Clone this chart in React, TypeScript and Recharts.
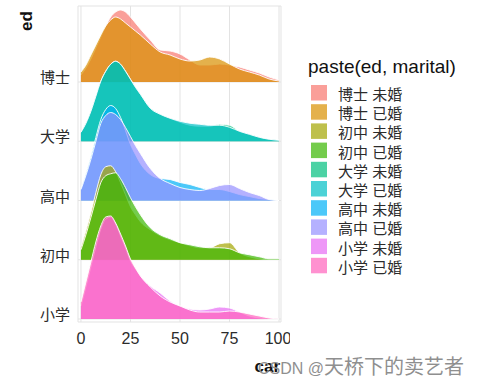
import React from "react";
import { ComposedChart, Area, XAxis, YAxis, CartesianGrid } from "recharts";

// 密度曲线的横坐标(car)
const xs = [0, 2.5, 5, 7.5, 10, 12.5, 15, 17.5, 20, 22.5, 25, 27.5, 30, 35, 40, 45, 50, 55, 60, 65, 70, 75, 80, 85, 90, 95, 100];

// 各组的密度高度(相对值,从图上读出)
const boshiWeihun = [7, 14, 23, 34, 45, 56, 65, 70, 72, 70, 65, 59, 53, 42, 32, 31, 28, 22, 17, 17, 18, 17, 15, 12, 9, 5, 2];
const boshiYihun = [10, 17, 27, 37, 47, 56, 62, 65, 63, 59, 55, 51, 47, 38, 30, 27, 23, 21, 22, 25, 23, 18, 13, 10, 7, 3, 1];
const daxueWeihun = [9, 18, 30, 45, 60, 70, 77, 80, 77, 70, 62, 54, 47, 33, 27, 23, 19, 16, 15, 15, 17, 16, 10, 7, 4, 2, 1];
const daxueYihun = [9, 18, 30, 45, 60, 70, 77, 80, 77, 70, 62, 54, 47, 33, 27, 23, 20, 18, 17, 16, 16, 14, 10, 7, 4, 2, 1];
const gaozhongWeihun = [12, 27, 44, 63, 81, 91, 95, 92, 83, 70, 56, 46, 37, 26, 22, 21, 18, 16, 13, 11, 11, 9, 6, 4, 2, 1, 0];
const gaozhongYihun = [11, 25, 41, 59, 77, 85, 88, 86, 81, 73, 64, 55, 47, 32, 22, 17, 13, 11, 10, 12, 15, 16, 12, 8, 5, 1, 0];
const chuzhongWeihun = [13, 29, 47, 67, 85, 93, 94, 88, 77, 65, 53, 45, 38, 30, 24, 20, 17, 14, 12, 12, 16, 17, 7, 3, 1, 0, 0];
const chuzhongYihun = [10, 25, 42, 60, 77, 84, 86, 87, 81, 72, 62, 53, 45, 32, 25, 21, 17, 15, 13, 12, 12, 11, 7, 5, 3, 1, 1];
const xiaoxueWeihun = [13, 32, 52, 72, 90, 100, 102, 95, 83, 71, 58, 50, 43, 33, 26, 18, 13, 10, 9, 10, 12, 11, 7, 3, 1, 0, 0];
const xiaoxueYihun = [17, 37, 57, 77, 93, 102, 103, 96, 85, 73, 60, 51, 43, 32, 23, 17, 13, 9, 7, 7, 7, 8, 7, 5, 3, 1, 0];

// y 轴的类别(从下到上)
const edLevels = ["小学", "初中", "高中", "大学", "博士"];
const xTicks = [0, 25, 50, 75, 100];

// 图例顺序 = 因子水平顺序
const groups = [
  { key: "bw", label: "博士 未婚", ed: "博士", values: boshiWeihun, color: "#F8766D" },
  { key: "by", label: "博士 已婚", ed: "博士", values: boshiYihun, color: "#D89000" },
  { key: "cw", label: "初中 未婚", ed: "初中", values: chuzhongWeihun, color: "#A3A500" },
  { key: "cy", label: "初中 已婚", ed: "初中", values: chuzhongYihun, color: "#39B600" },
  { key: "dw", label: "大学 未婚", ed: "大学", values: daxueWeihun, color: "#00BF7D" },
  { key: "dy", label: "大学 已婚", ed: "大学", values: daxueYihun, color: "#00BFC4" },
  { key: "gw", label: "高中 未婚", ed: "高中", values: gaozhongWeihun, color: "#00B0F6" },
  { key: "gy", label: "高中 已婚", ed: "高中", values: gaozhongYihun, color: "#9590FF" },
  { key: "xw", label: "小学 未婚", ed: "小学", values: xiaoxueWeihun, color: "#E76BF3" },
  { key: "xy", label: "小学 已婚", ed: "小学", values: xiaoxueYihun, color: "#FF62BC" },
];

// 山脊高度换算成行距单位
const RIDGE_SCALE = 1 / 59.25;

// 上面的行先画,下面的行压在上面
const drawOrder = [...groups].sort(
  (a, b) => edLevels.indexOf(b.ed) - edLevels.indexOf(a.ed)
);

const data = xs.map((x, i) => {
  const row: Record<string, number> = { x };
  groups.forEach((g) => {
    row[g.key] = g.values[i];
  });
  return row;
});

const FONT = "'Liberation Sans', Arial, 'Noto Sans CJK SC', sans-serif";

function YTick({ x, y, payload }: any) {
  return (
    <text x={x} y={y} dy={1} textAnchor="end" fontSize={15} fill="#2b2b2b" fontFamily={FONT}>
      {edLevels[payload.value]}
    </text>
  );
}

function XTick({ x, y, payload }: any) {
  return (
    <text x={x} y={y} dy="0.71em" textAnchor="middle" fontSize={16} fill="#2b2b2b" fontFamily={FONT}>
      {payload.value}
    </text>
  );
}

function Legend() {
  return (
    <svg width={195} height={388} style={{ position: "absolute", left: 290, top: 0 }}>
      <text x={18} y={73} fontSize={19} fill="#111" fontFamily={FONT}>
        paste(ed, marital)
      </text>
      {groups.map((g, i) => {
        const top = 85 + i * 19.2;
        return (
          <g key={g.key}>
            <rect x={21} y={top} width={16} height={15.5} fill={g.color} fillOpacity={0.7} />
            <text x={48} y={top + 15} fontSize={15} fill="#2b2b2b" fontFamily={FONT}>
              {g.label}
            </text>
          </g>
        );
      })}
    </svg>
  );
}

export default function App() {
  return (
    <div style={{ position: "absolute", left: 0, top: 0, width: 485, height: 388, background: "#fff" }}>
      <ComposedChart
        width={290}
        height={388}
        data={data}
        margin={{ top: 6, right: 9, bottom: 36, left: 8 }}
      >
        <CartesianGrid stroke="#E3E3E3" strokeWidth={1} />
        <XAxis
          dataKey="x"
          type="number"
          domain={[-1.5, 101]}
          allowDataOverflow
          ticks={xTicks}
          height={30}
          axisLine={false}
          tickLine={false}
          tickSize={0}
          tickMargin={11}
          tick={<XTick />}
        />
        <YAxis
          type="number"
          domain={[-0.0506, 5.283]}
          allowDataOverflow
          ticks={[0, 1, 2, 3, 4]}
          width={70}
          axisLine={false}
          tickLine={false}
          tickSize={0}
          tickMargin={8}
          tick={<YTick />}
          label={({ viewBox }: any) => (
            <text
              x={viewBox.x + 18}
              y={viewBox.y + 15}
              transform={`rotate(-90, ${viewBox.x + 18}, ${viewBox.y + 15})`}
              dy="0.36em"
              textAnchor="middle"
              fontSize={17}
              fontWeight="bold"
              fill="#111"
              fontFamily={FONT}
            >
              ed
            </text>
          )}
        />
        {drawOrder.map((g) => {
          const base = edLevels.indexOf(g.ed);
          return (
            <Area
              key={g.key}
              type="monotone"
              dataKey={(d: any) => base + d[g.key] * RIDGE_SCALE}
              baseValue={base}
              fill={g.color}
              fillOpacity={0.7}
              stroke="#ffffff"
              strokeWidth={0.9}
              dot={false}
              activeDot={false}
              isAnimationActive={false}
            />
          );
        })}
      </ComposedChart>
      <svg width={485} height={388} style={{ position: "absolute", left: 0, top: 0, pointerEvents: "none" }}>
        <text x={280} y={372} textAnchor="end" fontSize={17} fontWeight="bold" fill="#111" fontFamily={FONT}>
          car
        </text>
        <text x={258} y={374} fontSize={16} fill="#8f8f8f" fontFamily={FONT}>
          CSDN @
          <tspan fontSize={20} fontFamily="'Noto Sans CJK SC', sans-serif">天桥下的卖艺者</tspan>
        </text>
      </svg>
      <Legend />
    </div>
  );
}
